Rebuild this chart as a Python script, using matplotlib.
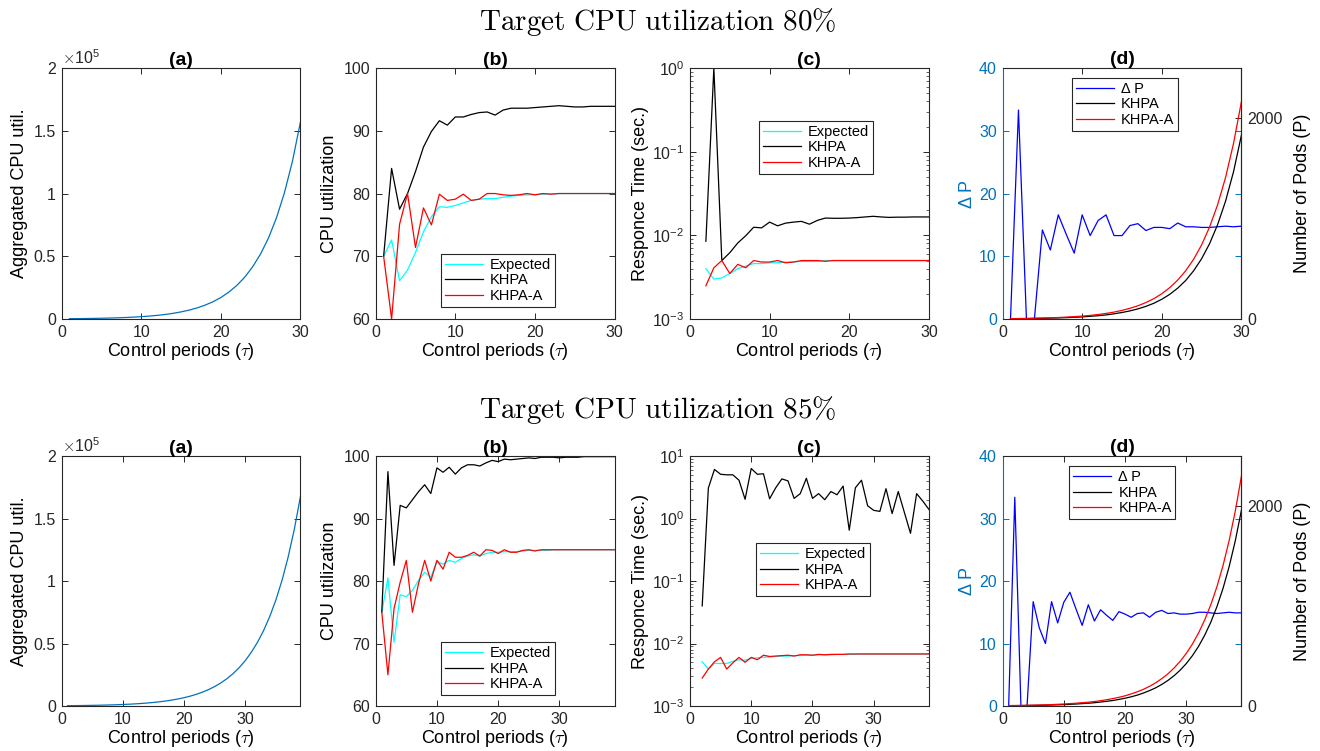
import matplotlib
matplotlib.use("Agg")
import matplotlib.pyplot as plt
from matplotlib.ticker import FuncFormatter

plt.rcParams['font.family'] = ['Liberation Sans', 'DejaVu Sans']
plt.rcParams['mathtext.fontset'] = 'cm'

# ---------------- data: target 80% ----------------
tau80 = list(range(1, 31))
agg80 = [256, 320, 400, 500, 620, 770, 960, 1200, 1500, 1870, 2330, 2910, 3630, 4530, 5660,
         7060, 8800, 11000, 13700, 17100, 21400, 26700, 33300, 41600, 51900, 64700, 80800,
         100800, 125800, 157000]
exp_util80 = [70, 72.6, 66.1, 67.8, 70.6, 73.9, 76.3, 77.9, 77.8, 78.1, 78.5, 78.9, 79.1, 79.2,
              79.2, 79.4, 79.6, 79.7, 79.8, 79.8, 79.9, 79.9, 80, 80, 80, 80, 80, 80, 80, 80]
khpa_util80 = [70, 84.0, 77.5, 80.0, 83.5, 87.4, 89.9, 91.6, 90.9, 92.2, 92.2, 92.6, 92.9, 93.0,
               92.5, 93.3, 93.6, 93.6, 93.6, 93.7, 93.8, 93.9, 94.0, 93.9, 93.8, 93.8, 93.9,
               93.9, 93.9, 93.9]
khpaa_util80 = [70, 60, 75.1, 80, 71.4, 77.7, 75.0, 79.9, 78.9, 79.1, 79.9, 78.9, 79.1, 80, 80,
                79.8, 79.7, 79.8, 80, 79.8, 80, 79.9, 80, 80, 80, 80, 80, 80, 80, 80]
tau_rt80 = list(range(2, 31))
exp_rt80 = [0.0040, 0.0030, 0.0031, 0.0035, 0.0040, 0.0043, 0.0046, 0.0046, 0.0047, 0.0047,
            0.0048, 0.0048, 0.0049, 0.0049, 0.0049, 0.0050, 0.0050, 0.0050, 0.0050, 0.0050,
            0.0050, 0.0050, 0.0050, 0.0050, 0.0050, 0.0050, 0.0050, 0.0050, 0.0050]
khpa_rt80 = [0.0085, 1.0, 0.0050, 0.0062, 0.0081, 0.0099, 0.0125, 0.0123, 0.0144, 0.0130,
             0.0140, 0.0144, 0.0147, 0.0136, 0.0151, 0.0161, 0.0160, 0.0160, 0.0161, 0.0163,
             0.0166, 0.0169, 0.0166, 0.0164, 0.0165, 0.0165, 0.0166, 0.0166, 0.0166]
khpaa_rt80 = [0.0025, 0.0041, 0.0050, 0.0035, 0.0045, 0.0041, 0.0050, 0.0048, 0.0048, 0.0050,
              0.0047, 0.0048, 0.0050, 0.0050, 0.0050, 0.0049, 0.0050, 0.0050, 0.0050, 0.0050,
              0.0050, 0.0050, 0.0050, 0.0050, 0.0050, 0.0050, 0.0050, 0.0050, 0.0050]
dp80 = [0, 33.3, 0, 0, 14.2, 11.0, 16.6, 13.5, 10.5, 16.6, 13.3, 15.7, 16.6, 13.3, 13.3, 14.9,
        15.2, 14.1, 14.6, 14.6, 14.4, 15.3, 14.7, 14.7, 14.6, 14.6, 14.7, 14.8, 14.7, 14.8]
pods_khpa80 = [2.9, 3.6, 4.5, 6, 7, 9, 11, 14, 17, 21, 27, 33, 41, 52, 65, 81, 101, 126, 157,
               197, 246, 308, 384, 481, 601, 751, 939, 1173, 1466, 1833]
pods_khpaa80 = [4, 5, 6, 8, 10, 12, 15, 19, 24, 29, 36, 45, 56, 69, 86, 107, 132, 164, 203,
                252, 313, 388, 481, 596, 739, 917, 1137, 1409, 1748, 2167]

# ---------------- data: target 85% ----------------
tau85 = list(range(1, 40))
agg85 = [264, 313, 371, 440, 522, 618, 732, 868, 1030, 1220, 1445, 1710, 2030, 2400, 2850,
         3380, 4000, 4740, 5620, 6660, 7890, 9350, 11080, 13130, 15560, 18440, 21850, 25890,
         30680, 36350, 43080, 51050, 60490, 71680, 84940, 100660, 119280, 141350, 167500]
exp_util85 = [75, 80.5, 70.2, 77.8, 77.5, 78.5, 80.1, 81.4, 80.6, 83.1, 82.7, 83.3, 83.0, 83.6,
              84.0, 84.2, 84.0, 84.4, 84.6, 84.6, 84.7, 84.7, 84.7, 84.8, 84.9, 84.9, 84.9,
              84.9, 85, 85, 85, 85, 85, 85, 85, 85, 85, 85, 85]
khpa_util85 = [75.0, 97.5, 82.5, 92.1, 91.7, 93.0, 94.3, 95.4, 94.0, 98.1, 97.4, 98.2, 97.1,
               98.1, 98.6, 98.6, 98.4, 98.9, 99.3, 99.1, 99.5, 99.4, 99.5, 99.6, 99.7, 99.6,
               99.8, 99.8, 99.8, 99.7, 99.8, 99.8, 99.8, 99.9, 99.9, 99.9, 99.9, 99.9, 99.9]
khpaa_util85 = [75, 65.0, 75.6, 79.8, 83.3, 75.0, 79.6, 83.3, 80.0, 83.3, 81.9, 84.6, 83.8,
                83.8, 84.1, 84.6, 84.0, 85.0, 84.9, 84.4, 85.0, 84.6, 84.6, 84.9, 85.0, 84.8,
                85.0, 85, 85, 85, 85, 85, 85, 85, 85, 85, 85, 85, 85]
tau_rt85 = list(range(2, 40))
exp_rt85 = [0.0051, 0.0039, 0.0048, 0.0048, 0.0048, 0.0052, 0.0055, 0.0054, 0.0058, 0.0059,
            0.0060, 0.0061, 0.0062, 0.0063, 0.0063, 0.0064, 0.0064, 0.0065, 0.0065, 0.0066,
            0.0066, 0.0066, 0.0067, 0.0067, 0.0067, 0.0067, 0.0068, 0.0068, 0.0068, 0.0068,
            0.0068, 0.0068, 0.0068, 0.0068, 0.0068, 0.0068, 0.0068, 0.0068]
khpa_rt85 = [0.040, 3.07, 6.1, 5.1, 5.0, 5.0, 4.1, 2.03, 6.3, 5.1, 5.2, 2.07, 3.1, 4.3, 4.0,
             2.1, 2.5, 4.4, 2.1, 2.5, 2.0, 2.7, 2.4, 3.3, 0.65, 3.1, 4.1, 1.6, 1.35, 1.3, 3.0,
             1.2, 2.7, 1.25, 0.58, 2.5, 1.9, 1.4]
khpaa_rt85 = [0.0028, 0.0039, 0.0051, 0.0060, 0.0039, 0.0049, 0.0060, 0.0050, 0.0060, 0.0055,
              0.0065, 0.0062, 0.0063, 0.0064, 0.0065, 0.0063, 0.0066, 0.0066, 0.0065, 0.0067,
              0.0066, 0.0067, 0.0067, 0.0067, 0.0068, 0.0068, 0.0068, 0.0068, 0.0068, 0.0068,
              0.0068, 0.0068, 0.0068, 0.0068, 0.0068, 0.0068, 0.0068, 0.0068]
dp85 = [0, 33.4, 0, 0, 16.7, 12.5, 10.0, 16.7, 13.3, 16.6, 18.2, 15.5, 12.9, 16.2, 13.6, 15.4,
        14.5, 13.7, 15.1, 14.7, 14.2, 14.8, 14.9, 14.2, 15.0, 15.3, 14.8, 14.9, 14.7, 14.7,
        14.8, 15.0, 15.0, 14.9, 14.8, 14.9, 15.0, 14.9, 14.9]
pods_khpa85 = [3.1, 3.6, 4.3, 5.1, 6.1, 7.2, 8.5, 10, 12, 14, 17, 20, 24, 28, 33, 40, 47, 55,
               66, 78, 92, 109, 130, 154, 182, 216, 256, 303, 359, 425, 504, 597, 708, 839,
               994, 1178, 1396, 1654, 1960]
pods_khpaa85 = [4.5, 5.3, 6.3, 7.4, 8.7, 10, 12, 14, 17, 20, 24, 28, 33, 38, 45, 53, 63, 74,
                87, 102, 121, 142, 167, 197, 232, 274, 322, 380, 447, 527, 620, 731, 861, 1014,
                1194, 1407, 1657, 1952, 2300]

series_labels = ["Expected", "KHPA", "KHPA-A"]
dp_labels = ["Δ P", "KHPA", "KHPA-A"]

# ---------------- style ----------------
AX = (0.15, 0.15, 0.15)
MBLUE = (0.0, 0.447, 0.741)
CYAN = (0.0, 1.0, 1.0)
LW = 0.9
TICK_FS = 11.5
LABEL_FS = 13
TITLE_FS = 14
LEG_FS = 10.5

fig = plt.figure(figsize=(13.2, 7.51), dpi=100)

W = 0.181
lefts = [0.0466, 0.2846, 0.5227, 0.7595]
rows = [(0.5752, 0.3342), (0.0599, 0.3329)]


def style(ax):
    for s in ax.spines.values():
        s.set_color(AX)
        s.set_linewidth(0.8)
    ax.tick_params(direction='in', top=True, right=True, colors=AX,
                   labelsize=TICK_FS, length=4, width=0.7, pad=4)
    ax.set_xlabel("Control periods ($\\tau$)", fontsize=LABEL_FS, color='black', labelpad=1)


def legend(ax, handles, labels, x0, ytop):
    leg = ax.legend(handles, labels, loc='upper left', bbox_to_anchor=(x0, ytop),
                    fontsize=LEG_FS, frameon=True, fancybox=False, framealpha=1,
                    edgecolor=AX, borderpad=0.25, labelspacing=0.12,
                    handlelength=2.6, handletextpad=0.5, borderaxespad=0)
    leg.get_frame().set_linewidth(0.8)
    return leg


def make_row(r, tau, agg, xmax, exp_u, khpa_u, khpaa_u, tau_rt, exp_rt, khpa_rt, khpaa_rt,
             rt_ymax, dp, pk, pka, leg_b, leg_c, leg_d, title):
    bottom, height = rows[r]
    # (a)
    ax = fig.add_axes([lefts[0], bottom, W, height])
    ax.plot(tau, agg, color=MBLUE, lw=LW)
    ax.set_xlim(0, xmax)
    ax.set_ylim(0, 2e5)
    ax.set_xticks([0, 10, 20, 30])
    ax.set_yticks([0, 0.5e5, 1e5, 1.5e5, 2e5])
    ax.yaxis.set_major_formatter(FuncFormatter(lambda v, p: ('%g' % (v / 1e5))))
    style(ax)
    ax.set_ylabel("Aggregated CPU util.", fontsize=LABEL_FS, labelpad=4)
    ax.set_title("(a)", fontweight='bold', fontsize=TITLE_FS, pad=2)
    ax.text(0.0, 1.005, r"$\times\mathregular{10^5}$", transform=ax.transAxes,
            fontsize=TICK_FS, color=AX, ha='left', va='bottom')

    # (b)
    ax = fig.add_axes([lefts[1], bottom, W, height])
    h1, = ax.plot(tau, exp_u, color=CYAN, lw=LW)
    h2, = ax.plot(tau, khpa_u, color='black', lw=LW)
    h3, = ax.plot(tau, khpaa_u, color='red', lw=LW)
    ax.set_xlim(0, xmax)
    ax.set_ylim(60, 100)
    ax.set_xticks([0, 10, 20, 30])
    ax.set_yticks([60, 70, 80, 90, 100])
    style(ax)
    ax.set_ylabel("CPU utilization", fontsize=LABEL_FS, labelpad=4)
    ax.set_title("(b)", fontweight='bold', fontsize=TITLE_FS, pad=2)
    legend(ax, [h1, h2, h3], series_labels, *leg_b)

    # (c)
    ax = fig.add_axes([lefts[2], bottom, W, height])
    h1, = ax.plot(tau_rt, exp_rt, color=CYAN, lw=LW)
    h2, = ax.plot(tau_rt, khpa_rt, color='black', lw=LW)
    h3, = ax.plot(tau_rt, khpaa_rt, color='red', lw=LW)
    ax.set_yscale('log')
    ax.set_xlim(0, xmax)
    ax.set_ylim(1e-3, rt_ymax)
    ax.set_xticks([0, 10, 20, 30])
    style(ax)
    ax.tick_params(which='minor', direction='in', right=True, length=2, width=0.5, colors=AX)
    ax.set_ylabel("Responce Time (sec.)", fontsize=LABEL_FS, labelpad=2)
    ax.set_title("(c)", fontweight='bold', fontsize=TITLE_FS, pad=2)
    legend(ax, [h1, h2, h3], series_labels, *leg_c)

    # (d)
    ax = fig.add_axes([lefts[3], bottom, W, height])
    ax2 = ax.twinx()
    h1, = ax.plot(tau, dp, color='blue', lw=LW)
    h2, = ax2.plot(tau, pk, color='black', lw=LW)
    h3, = ax2.plot(tau, pka, color='red', lw=LW)
    ax.set_xlim(0, xmax)
    ax.set_ylim(0, 40)
    ax.set_xticks([0, 10, 20, 30])
    ax.set_yticks([0, 10, 20, 30, 40])
    ax2.set_ylim(0, 2500)
    ax2.set_yticks([0, 2000])
    style(ax)
    ax.tick_params(axis='y', colors=MBLUE)
    ax.spines['left'].set_color(MBLUE)
    for s in ax2.spines.values():
        s.set_visible(False)
    ax2.spines['right'].set_visible(True)
    ax2.spines['right'].set_color(AX)
    ax2.spines['right'].set_linewidth(0.8)
    ax2.tick_params(direction='in', colors=AX, labelsize=TICK_FS, length=4, width=0.7, pad=4)
    ax.set_ylabel("Δ P", fontsize=LABEL_FS, color=MBLUE, labelpad=2)
    ax2.set_ylabel("Number of Pods (P)", fontsize=LABEL_FS, color='black', labelpad=8)
    ax.set_title("(d)", fontweight='bold', fontsize=TITLE_FS, pad=2)
    legend(ax2, [h1, h2, h3], dp_labels, *leg_d)

    fig.text(0.498, bottom + height + 0.061, title, ha='center', va='center', fontsize=21,
             color='black')


make_row(0, tau80, agg80, 30, exp_util80, khpa_util80, khpaa_util80, tau_rt80, exp_rt80,
         khpa_rt80, khpaa_rt80, 1e0, dp80, pods_khpa80, pods_khpaa80,
         (0.274, 0.259), (0.29, 0.789), (0.292, 0.96),
         r"$\mathrm{Target\ CPU\ utilization\ 80\%}$")
make_row(1, tau85, agg85, 39, exp_util85, khpa_util85, khpaa_util85, tau_rt85, exp_rt85,
         khpa_rt85, khpaa_rt85, 1e1, dp85, pods_khpa85, pods_khpaa85,
         (0.274, 0.255), (0.277, 0.651), (0.28, 0.959),
         r"$\mathrm{Target\ CPU\ utilization\ 85\%}$")

fig.savefig("out.png", dpi=100)
